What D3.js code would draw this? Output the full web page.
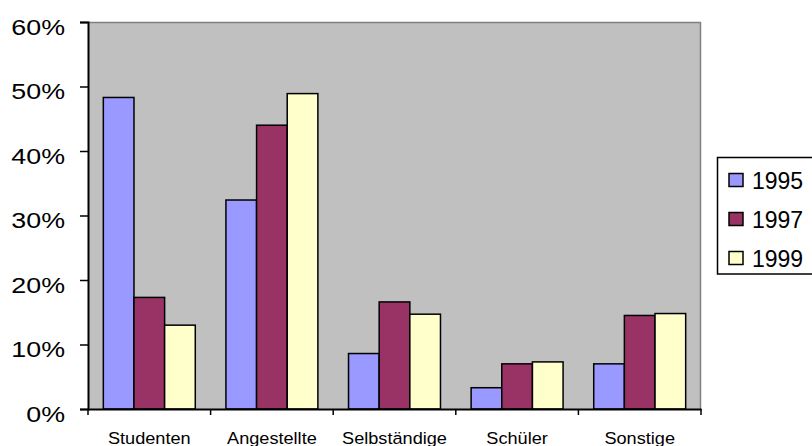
<!DOCTYPE html>
<html>
<head>
<meta charset="utf-8">
<script src="https://cdn.jsdelivr.net/npm/d3@7"></script>
<style>
  html, body { margin: 0; padding: 0; background: #fff; }
  svg { display: block; }
  text { font-family: "Liberation Sans", Arial, sans-serif; fill: #000; }
</style>
</head>
<body>
<svg id="chart" width="812" height="446"></svg>
<script>
// Occupational groups and their share per survey year
const categories = ["Studenten", "Angestellte", "Selbständige", "Schüler", "Sonstige"];
const years = ["1995", "1997", "1999"];
const values1995 = [0.483, 0.324, 0.086, 0.033, 0.070];
const values1997 = [0.173, 0.440, 0.166, 0.070, 0.145];
const values1999 = [0.130, 0.489, 0.147, 0.073, 0.148];
const yTicks = [0, 0.1, 0.2, 0.3, 0.4, 0.5, 0.6];
const colors = ["#9999FF", "#993366", "#FFFFCC"];

const seriesValues = [values1995, values1997, values1999];

const svg = d3.select("#chart");
const plot = { left: 88, right: 701, top: 22, bottom: 409 };

// Plot area background
svg.append("rect")
  .attr("x", plot.left).attr("y", plot.top)
  .attr("width", plot.right - plot.left).attr("height", plot.bottom - plot.top)
  .attr("fill", "#C0C0C0");
svg.append("path")
  .attr("d", `M${plot.left},${plot.top + 0.5}H${plot.right - 0.5}V${plot.bottom}`)
  .attr("fill", "none").attr("stroke", "#808080").attr("stroke-width", 1.5);

const x = d3.scaleBand().domain(categories).range([plot.left, plot.right]).padding(0);
const step = x.bandwidth();
const xInner = d3.scaleBand().domain(years).range([step / 8, step * 7 / 8]).padding(0);
const y = d3.scaleLinear().domain([0, 0.6]).range([plot.bottom, plot.top]);

// Bars
const groups = svg.append("g").selectAll("g")
  .data(categories)
  .join("g")
  .attr("transform", d => `translate(${x(d)},0)`);

groups.selectAll("rect")
  .data((c, i) => years.map((yr, s) => ({ yr, s, v: seriesValues[s][i] })))
  .join("rect")
  .attr("x", d => xInner(d.yr))
  .attr("y", d => y(d.v))
  .attr("width", xInner.bandwidth())
  .attr("height", d => y(0) - y(d.v))
  .attr("fill", d => colors[d.s])
  .attr("stroke", "#000")
  .attr("stroke-width", 1.5);

// Y axis
const yAxis = svg.append("g")
  .attr("transform", `translate(${plot.left},0)`)
  .call(d3.axisLeft(y).tickValues(yTicks).tickSize(8).tickFormat(d3.format(".0%")));
yAxis.select(".domain").attr("stroke", "#000").attr("stroke-width", 2);
yAxis.selectAll(".tick line").attr("stroke", "#000").attr("stroke-width", 1.5);
yAxis.selectAll(".tick text").each(function () {
  const t = d3.select(this);
  t.attr("x", null).attr("dy", null)
    .attr("text-anchor", "end")
    .attr("font-size", 22)
    .attr("transform", "translate(-23,12) scale(1.22,1)");
});
yAxis.attr("font-family", null).attr("font-size", null);

// X axis with ticks at the category boundaries
const xAxis = svg.append("g")
  .attr("transform", `translate(0,${plot.bottom})`)
  .call(d3.axisBottom(x).tickSize(0).tickFormat(""));
xAxis.select(".domain").attr("stroke", "#000").attr("stroke-width", 2);
xAxis.selectAll(".tick").remove();
const boundaries = categories.map(c => x(c)).concat([x(categories[categories.length - 1]) + step]);
xAxis.selectAll("line.bound")
  .data(boundaries)
  .join("line")
  .attr("class", "bound")
  .attr("x1", d => d).attr("x2", d => d)
  .attr("y1", 0).attr("y2", 6)
  .attr("stroke", "#000").attr("stroke-width", 1.5);

svg.append("g").selectAll("text")
  .data(categories)
  .join("text")
  .attr("text-anchor", "middle")
  .attr("font-size", 16.5)
  .attr("transform", d => `translate(${x(d) + step / 2},443.5) scale(1.1,1)`)
  .text(d => d);

// Legend
const legend = svg.append("g");
legend.append("rect")
  .attr("x", 717.5).attr("y", 157.5)
  .attr("width", 130).attr("height", 116.5)
  .attr("fill", "#fff").attr("stroke", "#000").attr("stroke-width", 1.5);
const rowY = [180, 219, 258];
const items = legend.selectAll("g.item")
  .data(years)
  .join("g")
  .attr("class", "item")
  .attr("transform", (d, i) => `translate(0,${rowY[i]})`);
items.append("rect")
  .attr("x", 729).attr("y", -6.5)
  .attr("width", 14).attr("height", 13)
  .attr("fill", (d, i) => colors[i])
  .attr("stroke", "#000").attr("stroke-width", 1.5);
items.append("text")
  .attr("font-size", 23)
  .attr("x", 752).attr("y", 8.5)
  .text(d => d);
</script>
</body>
</html>
